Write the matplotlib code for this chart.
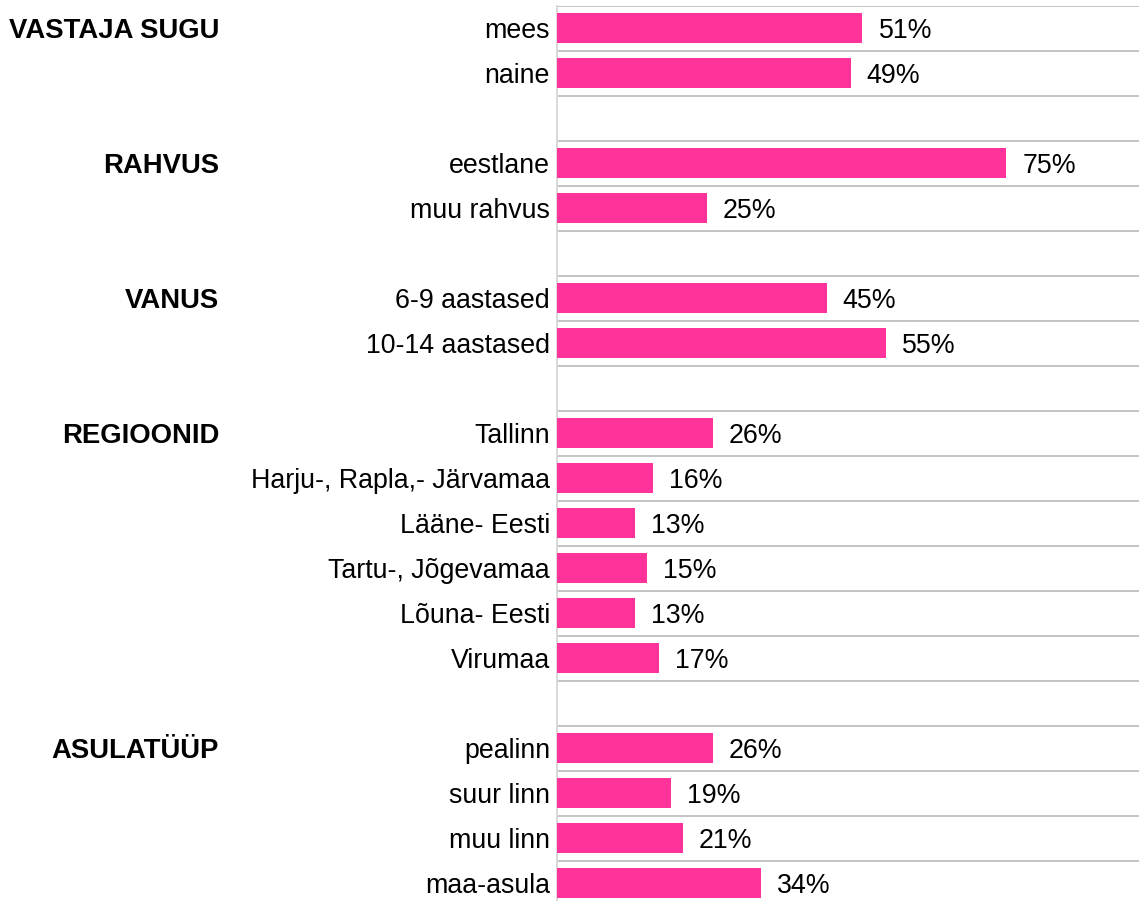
import matplotlib.pyplot as plt
import matplotlib.transforms as mtransforms

plt.rcParams['font.family'] = ['Liberation Sans', 'DejaVu Sans']

# ------------------------------------------------------------------
# DATA
# ------------------------------------------------------------------
groups = ["VASTAJA SUGU", "RAHVUS", "VANUS", "REGIOONID", "ASULATÜÜP"]
group_items = [
    ["mees", "naine"],
    ["eestlane", "muu rahvus"],
    ["6-9 aastased", "10-14 aastased"],
    ["Tallinn", "Harju-, Rapla,- Järvamaa", "Lääne- Eesti",
     "Tartu-, Jõgevamaa", "Lõuna- Eesti", "Virumaa"],
    ["pealinn", "suur linn", "muu linn", "maa-asula"],
]
group_values = [
    [51, 49],
    [75, 25],
    [45, 55],
    [26, 16, 13, 15, 13, 17],
    [26, 19, 21, 34],
]

bar_color = "#FF3399"
grid_color = "#c4c4c4"
fs = 19.3

# ------------------------------------------------------------------
# build rows (blank row between groups)
# ------------------------------------------------------------------
labels, values, positions, group_pos = [], [], [], []
row = 0
for gi, (items, vals) in enumerate(zip(group_items, group_values)):
    group_pos.append(row)
    for it, v in zip(items, vals):
        labels.append(it)
        values.append(v)
        positions.append(row)
        row += 1
    if gi < len(groups) - 1:
        row += 1
n_rows = row

W, H = 1139, 901
fig = plt.figure(figsize=(W / 100, H / 100), dpi=100)
ax = fig.add_axes([557 / W, 0, 1 - 557 / W, 1 - 5.5 / H])

ax.barh(positions, values, height=0.667, color=bar_color, zorder=3)
ax.set_xlim(0, (W - 557) / 5.99)
ax.set_ylim(n_rows - 0.5 - 4.5 / 45, -0.5)

# horizontal separators at every row boundary
for k in range(n_rows + 1):
    ax.axhline(k - 0.5, color=grid_color, lw=1.4, zorder=1)

for s in ["top", "right", "bottom"]:
    ax.spines[s].set_visible(False)
ax.spines["left"].set_color("#d9d9d9")
ax.spines["left"].set_linewidth(1.4)

ax.set_xticks([])
ax.set_yticks(positions)
ax.set_yticklabels(labels, fontsize=fs)
ax.tick_params(axis="y", length=0, pad=5)
for t in ax.get_yticklabels():
    t.set_verticalalignment("center_baseline")

for p, v in zip(positions, values):
    ax.annotate(f"{v}%", xy=(v, p), xytext=(11.5, 0), textcoords="offset points",
                ha="left", va="center_baseline", fontsize=fs)

trans = mtransforms.blended_transform_factory(fig.transFigure, ax.transData)
for g, p in zip(groups, group_pos):
    ax.text(219 / W, p, g, transform=trans, ha="right", va="center_baseline",
            fontsize=19.8, fontweight="bold")

fig.savefig("out.png", dpi=100)
